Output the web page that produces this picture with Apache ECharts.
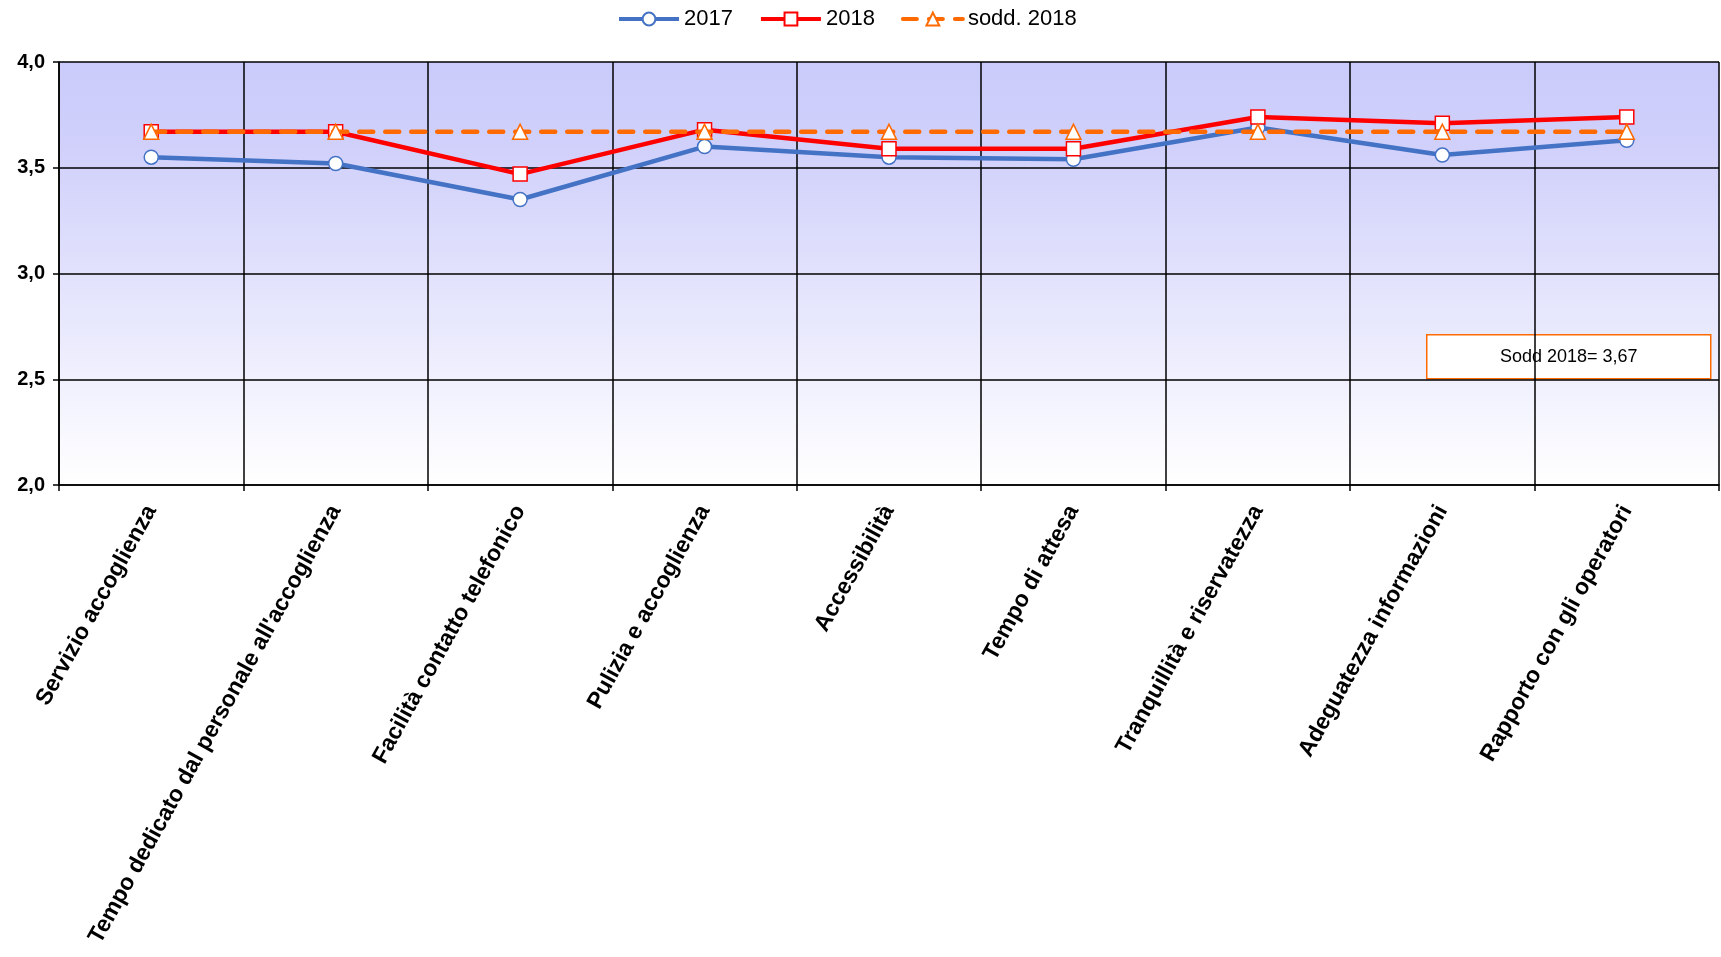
<!DOCTYPE html>
<html>
<head>
<meta charset="utf-8">
<script src="https://cdn.jsdelivr.net/npm/echarts@6/dist/echarts.min.js"></script>
<style>
  html, body { margin: 0; padding: 0; background: #fff; }
  #chart { width: 1721px; height: 957px; }
</style>
</head>
<body>
<div id="chart"></div>
<script>
// categorie
const categories = [
  'Servizio accoglienza',
  "Tempo dedicato dal personale all'accoglienza",
  'Facilità contatto telefonico',
  'Pulizia e accoglienza',
  'Accessibilità',
  'Tempo di attesa',
  'Tranquillità e riservatezza',
  'Adeguatezza informazioni',
  'Rapporto con gli operatori'
]
const values2017 = [3.55, 3.52, 3.35, 3.60, 3.55, 3.54, 3.69, 3.56, 3.63]
const values2018 = [3.67, 3.67, 3.47, 3.68, 3.59, 3.59, 3.74, 3.71, 3.74]
const sodd2018 = [3.67, 3.67, 3.67, 3.67, 3.67, 3.67, 3.67, 3.67, 3.67]
const yTicks = [2.0, 2.5, 3.0, 3.5, 4.0]

const myChart = echarts.init(document.getElementById('chart'))
const font = 'Liberation Sans, Arial, sans-serif'

const option = {
  animation: false,
  textStyle: { fontFamily: font },
  legend: {
    top: 3,
    left: 612,
    itemWidth: 60,
    itemHeight: 16,
    itemGap: 26,
    lineStyle: { width: 4 },
    textStyle: { fontSize: 22, color: '#000', fontFamily: font },
    data: ['2017', '2018', 'sodd. 2018']
  },
  grid: {
    left: 59,
    right: 2,
    top: 62,
    bottom: 472,
    show: true,
    borderWidth: 0,
    backgroundColor: new echarts.graphic.LinearGradient(0, 0, 0, 1, [
      { offset: 0, color: '#cbcbfb' },
      { offset: 0.2, color: '#d0d0fb' },
      { offset: 1, color: '#ffffff' }
    ])
  },
  xAxis: {
    type: 'category',
    data: categories,
    boundaryGap: true,
    axisLine: { lineStyle: { color: '#000', width: 1.5 } },
    axisTick: { show: true, length: 6, lineStyle: { color: '#000', width: 1.5 } },
    splitLine: { show: true, lineStyle: { color: '#000', width: 1.5 } },
    axisLabel: {
      interval: 0,
      rotate: 61,
      margin: 22,
      color: '#000',
      fontWeight: 'bold',
      fontSize: 23,
      fontFamily: font
    }
  },
  yAxis: {
    type: 'value',
    min: 2,
    max: 4,
    interval: 0.5,
    axisLine: { show: true, lineStyle: { color: '#000', width: 1.5 } },
    axisTick: { show: true, length: 6, lineStyle: { color: '#000', width: 1.5 } },
    splitLine: { show: true, lineStyle: { color: '#000', width: 1.5 } },
    axisLabel: {
      color: '#000',
      fontWeight: 'bold',
      fontSize: 20,
      margin: 14,
      fontFamily: font,
      formatter: v => yTicks.includes(v) ? v.toFixed(1).replace('.', ',') : ''
    }
  },
  series: [
    {
      name: '2017',
      type: 'line',
      data: values2017,
      symbol: 'circle',
      symbolSize: 14,
      lineStyle: { color: '#4472c4', width: 4.5 },
      itemStyle: { color: '#ffffff', borderColor: '#4472c4', borderWidth: 1.5 },
      z: 2
    },
    {
      name: '2018',
      type: 'line',
      data: values2018,
      symbol: 'rect',
      symbolSize: 14,
      lineStyle: { color: '#ff0000', width: 4.5 },
      itemStyle: { color: '#ffffff', borderColor: '#ff0000', borderWidth: 1.5 },
      z: 3
    },
    {
      name: 'sodd. 2018',
      type: 'line',
      data: sodd2018,
      symbol: 'triangle',
      symbolSize: 15,
      lineStyle: { color: '#ff6a00', width: 4.5, type: [14, 12], cap: 'round' },
      itemStyle: { color: '#ffffff', borderColor: '#ff6a00', borderWidth: 1.5 },
      z: 4
    }
  ],
  graphic: [
    {
      type: 'group',
      left: 1426,
      top: 334,
      children: [
        {
          type: 'rect',
          shape: { x: 0, y: 0, width: 284, height: 44 },
          style: { fill: '#ffffff', stroke: '#ff6a00', lineWidth: 1.5 }
        },
        {
          type: 'text',
          x: 142,
          y: 22,
          style: {
            text: 'Sodd 2018= 3,67',
            fill: '#000',
            font: '18px ' + font,
            align: 'center',
            verticalAlign: 'middle'
          }
        }
      ]
    }
  ]
}

myChart.setOption(option)
</script>
</body>
</html>
